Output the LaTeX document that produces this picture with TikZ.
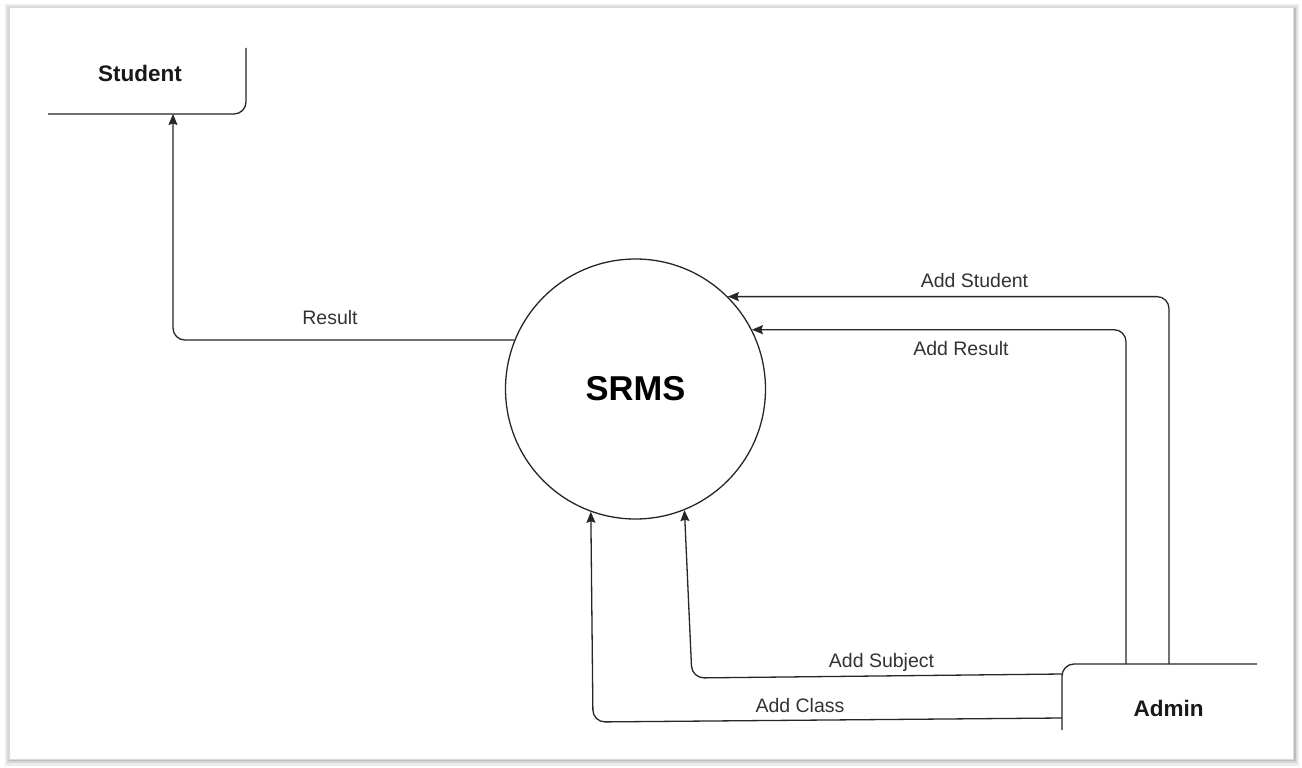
\documentclass[tikz,border=0pt]{standalone}
\usepackage{fontspec}
\setmainfont{Liberation Sans}
\usetikzlibrary{arrows.meta}

\begin{document}
\begin{tikzpicture}[x=1pt,y=-1pt,
  flow/.style={line width=1.3pt, draw=black!85, rounded corners=12pt,
    -{Stealth[length=11pt,width=9pt,inset=1.5pt]}},
  entity/.style={line width=1.3pt, draw=black!85, rounded corners=12pt},
  extname/.style={font=\bfseries\fontsize{22.5}{26}\selectfont, text=black!90},
  flowlabel/.style={font=\fontsize{19.5}{23}\selectfont, text=black!80},
  procname/.style={circle, draw=black!85, line width=1.3pt, minimum size=260pt,
    inner sep=0pt, font=\bfseries\fontsize{34.5}{40}\selectfont}]

  % page and framed panel with its soft edge shadow
  \useasboundingbox (0,0) rectangle (1302,768);
  \fill[white] (0,0) rectangle (1302,768);
  \fill[black!7] (5,4) rectangle (1299,766);
  \fill[black!16] (7,6) rectangle (1297,763);
  \fill[black!26] (9,8) rectangle (1296,761);
  \fill[white, draw=black!14, line width=0.6pt] (9,7) rectangle (1293,759);

  % external entities
  \draw[entity] (48,114) -- (246,114) -- (246,48);
  \node[extname] (student) at (140,73) {Student};
  \draw[entity] (1062,730) -- (1062,664) -- (1257,664);
  \node[extname] (admin) at (1168.5,708) {Admin};

  % process
  \node[procname] (srms) at (635.5,389) {SRMS};

  % attachment points on the entity outlines
  \coordinate (stuIn) at (173,114);
  \coordinate (admResult) at (1126,664);
  \coordinate (admStudent) at (1169,664);
  \coordinate (admSubject) at (1062,674);
  \coordinate (admClass) at (1062,718);
  \coordinate (bendSubject) at (692,678);
  \coordinate (bendClass) at (593,722);

  % data flows
  \draw[flow] (srms.158.8) -| (stuIn);
  \draw[flow] (admStudent) |- (srms.45);
  \draw[flow] (admResult) |- (srms.27);
  \draw[flow] (admSubject) -- (bendSubject) -- (srms.292);
  \draw[flow] (admClass) -- (bendClass) -- (srms.250.5);

  % flow labels
  \node[flowlabel] (lResult) at (330,318) {Result};
  \node[flowlabel] (lAddStudent) at (974.5,281) {Add Student};
  \node[flowlabel] (lAddResult) at (961,349) {Add Result};
  \node[flowlabel] (lAddSubject) at (881.5,662) {Add Subject};
  \node[flowlabel] (lAddClass) at (800,706) {Add Class};
\end{tikzpicture}
\end{document}
